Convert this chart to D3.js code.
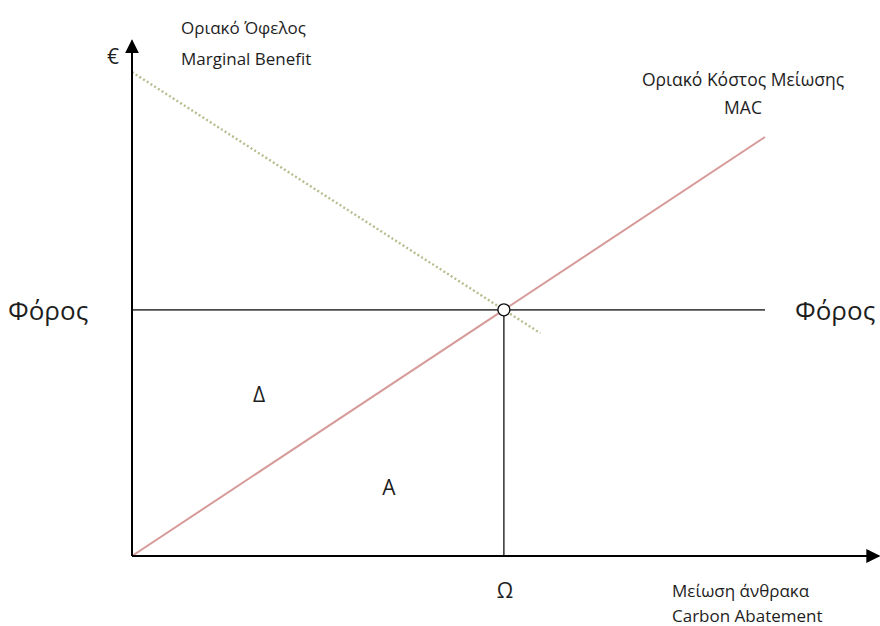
<!DOCTYPE html>
<html>
<head>
<meta charset="utf-8">
<script src="https://cdn.jsdelivr.net/npm/d3@7"></script>
<style>
  html, body { margin: 0; padding: 0; background: #fff; }
  svg { display: block; }
  text { font-family: "Open Sans", "DejaVu Sans", sans-serif; fill: #1e1e1e; }
</style>
</head>
<body>
<svg id="chart" width="880" height="626"></svg>
<script>
// Abatement (x) and price (y) in arbitrary units: MAC rises as y = x.
const macLine = [[0, 0], [100, 100]];
const benefitLine = [[0, 115.5], [64.5, 53.2]];
const taxLevel = 58.75;
const taxExtent = [0, 100];
const optimum = [58.75, 58.75];
const axisMax = { x: 118, y: 123 };

const labelsTop = ["Οριακό Όφελος", "Marginal Benefit"];
const labelsMac = ["Οριακό Κόστος Μείωσης", "MAC"];
const labelsX = ["Μείωση άνθρακα", "Carbon Abatement"];
const taxLabel = "Φόρος";
const yUnit = "€";
const optimumLabel = "Ω";
const areaLabels = ["Δ", "A"];

const svg = d3.select("#chart");
const x = d3.scaleLinear().domain([0, 100]).range([132, 765]);
const y = d3.scaleLinear().domain([0, 100]).range([556, 137]);
const line = d3.line().x(d => x(d[0])).y(d => y(d[1]));

// arrow markers for axes
const defs = svg.append("defs");
defs.append("marker")
  .attr("id", "arrow")
  .attr("viewBox", "0 0 10 10")
  .attr("refX", 9).attr("refY", 5)
  .attr("markerWidth", 7).attr("markerHeight", 7)
  .attr("markerUnits", "strokeWidth")
  .attr("orient", "auto")
  .append("path").attr("d", "M0,0 L10,5 L0,10 Z").attr("fill", "#000");

// tax line
svg.append("path")
  .attr("d", line([[taxExtent[0], taxLevel], [taxExtent[1], taxLevel]]))
  .attr("stroke", "#4a4a4a").attr("stroke-width", 1.6).attr("fill", "none");

// vertical drop line at the optimum
svg.append("path")
  .attr("d", line([[optimum[0], 0], optimum]))
  .attr("stroke", "#111").attr("stroke-width", 1.3).attr("fill", "none");

// marginal benefit (dotted)
svg.append("path")
  .attr("d", line(benefitLine))
  .attr("stroke", "#b9bc8e").attr("stroke-width", 2.4)
  .attr("stroke-dasharray", "2,2.4").attr("fill", "none");

// marginal abatement cost
svg.append("path")
  .attr("d", line(macLine))
  .attr("stroke", "#d69a98").attr("stroke-width", 2).attr("fill", "none");

// axes
svg.append("path")
  .attr("d", line([[0, 0], [0, axisMax.y]]))
  .attr("stroke", "#000").attr("stroke-width", 2).attr("fill", "none")
  .attr("marker-end", "url(#arrow)");
svg.append("path")
  .attr("d", line([[0, 0], [axisMax.x, 0]]))
  .attr("stroke", "#000").attr("stroke-width", 2).attr("fill", "none")
  .attr("marker-end", "url(#arrow)");

// intersection marker
svg.append("circle")
  .attr("cx", x(optimum[0])).attr("cy", y(optimum[1])).attr("r", 6)
  .attr("fill", "#fff").attr("stroke", "#111").attr("stroke-width", 1.4);

// labels
const t = (s, px, py, size, anchor) => svg.append("text")
  .attr("x", px).attr("y", py).attr("font-size", size)
  .attr("text-anchor", anchor || "start").text(s);

t(yUnit, 107, 64, 21);
t(labelsTop[0], 181, 34, 17);
t(labelsTop[1], 181, 65, 17);
t(labelsMac[0], 743, 86, 17.5, "middle");
t(labelsMac[1], 743, 114, 17.5, "middle");
t(taxLabel, 8, 320, 26);
t(taxLabel, 795, 320, 26);
t(areaLabels[0], 259, 402, 21, "middle");
t(areaLabels[1], 389, 495, 21, "middle");
t(optimumLabel, 505, 598, 21, "middle");
t(labelsX[0], 672, 597, 17);
t(labelsX[1], 672, 622, 17);
</script>
</body>
</html>
